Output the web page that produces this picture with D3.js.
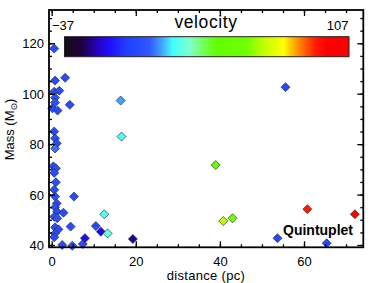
<!DOCTYPE html>
<html><head><meta charset="utf-8">
<script src="https://cdn.jsdelivr.net/npm/d3@7"></script>
<style>
html,body{margin:0;padding:0;background:#fff;}
text{font-family:"Liberation Sans",Arial,sans-serif;fill:#000;}
</style></head>
<body>
<svg id="c" width="373" height="283"></svg>
<script>
// ---- data ----
const distance = [0.6,0.8,3.2,0.6,1.8,0.8,0.8,0.15,1.4,4.3,16.4,
  0.6,0.8,1.2,0.8,0.4,1.0,0.6,1.0,0.6,0.8,1.2,0.8,1.3,2.8,0.6,1.3,5.3,0.8,1.6,0.8,0.6,
  4.5,2.5,4.9,7.4,7.9,10.5,11.7,12.5,13.3,19.3,16.6,
  39.0,40.8,43.0,53.7,60.8,65.4,72.1,55.6];
const mass = [117.9,105.2,106.3,100.8,101.2,98.4,96.5,94.2,93.3,95.6,97.3,
  85.0,82.3,80.3,78.3,71.2,70.4,68.6,64.9,61.9,59.2,56.5,55.0,53.2,52.8,51.2,50.6,59.2,47.0,46.2,44.6,43.1,
  47.3,40.0,39.7,40.4,42.7,47.5,45.3,52.2,44.6,42.4,83.0,
  71.7,49.5,50.6,42.7,54.2,40.7,52.2,102.6];
const velocity = [0,-1,0,1,0,2,3,0,-1,0,12,
  0,1,0,8,0,1,0,1,0,2,0,1,0,-1,0,1,0,1,0,0,-1,
  0,0,1,0,-15,-2,-17,20,22,-23,19,
  47,64,54,-2,91,-2,95,-2];
const xTicks = [0,20,40,60];
const yTicks = [40,60,80,100,120];
const vMin = -37, vMax = 107;
const colorStops = [
  [0.00,"#101010"],[0.06,"#200040"],[0.12,"#2800c8"],[0.16,"#2010ff"],
  [0.22,"#2040ff"],[0.30,"#3058ff"],[0.34,"#40a0ff"],[0.38,"#40ffff"],
  [0.44,"#80ffd0"],[0.50,"#70ff40"],[0.54,"#60ff00"],[0.64,"#70ff00"],
  [0.70,"#c0ff00"],[0.77,"#ffff00"],[0.82,"#ff9000"],[0.88,"#ff2000"],
  [0.92,"#ff0000"],[1.00,"#ff0000"]];

// ---- chart ----
const svg = d3.select("#c");
const L=49, R=363.3, T=10, B=247.3;
const x = d3.scaleLinear().domain([-0.64,74.1]).range([L,R]);
const y = d3.scaleLinear().domain([39.09,133.2]).range([B,T]);
const tScale = d3.scaleLinear().domain([vMin,vMax]).range([0,1]);
const cmap = d3.scaleLinear().domain(colorStops.map(d=>d[0])).range(colorStops.map(d=>d[1])).interpolate(d3.interpolateRgb).clamp(true);
const color = v => cmap(tScale(v));

// points
const pts = distance.map((d,i)=>({d, m:mass[i], v:velocity[i]}));
const sym = d3.symbol().type(d3.symbolDiamond2).size(52);
svg.append("g").selectAll("path").data(pts).join("path")
  .attr("d", sym)
  .attr("transform", p=>`translate(${x(p.d)},${y(p.m)})`)
  .attr("fill", p=>color(p.v))
  .attr("stroke","#333").attr("stroke-width",0.7);

// axes
const xMinor = d3.range(0,75,5), yMinor = d3.range(40,135,5);
function axis(gen, pos, ticks, size, labels){
  const a = gen.tickValues(ticks).tickSize(size).tickSizeOuter(0);
  if(!labels) a.tickFormat("");
  const g = svg.append("g").attr("transform",pos).call(a);
  g.select(".domain").remove();
  g.selectAll("line").attr("stroke","#000").attr("stroke-width",1.3);
  g.selectAll("text").style("font-size","13px").style("font-family","'Liberation Sans',Arial,sans-serif");
  return g;
}
axis(d3.axisBottom(x),`translate(0,${B})`,xMinor,-3,false);
axis(d3.axisBottom(x),`translate(0,${B})`,xTicks,-6,true).selectAll("text").attr("dy","0.95em").attr("y",6);
axis(d3.axisTop(x),`translate(0,${T})`,xMinor,-3,false);
axis(d3.axisTop(x),`translate(0,${T})`,xTicks,-6,false);
axis(d3.axisLeft(y),`translate(${L},0)`,yMinor,-3,false);
axis(d3.axisLeft(y),`translate(${L},0)`,yTicks,-6,true).selectAll("text").attr("x",-5).attr("dy","0.36em");
axis(d3.axisRight(y),`translate(${R},0)`,yMinor,-3,false);
axis(d3.axisRight(y),`translate(${R},0)`,yTicks,-6,false);
svg.append("rect").attr("x",L).attr("y",T).attr("width",R-L).attr("height",B-T)
  .attr("fill","none").attr("stroke","#000").attr("stroke-width",1.8);

// colorbar
const defs = svg.append("defs");
const grad = defs.append("linearGradient").attr("id","cb");
grad.selectAll("stop").data(colorStops).join("stop")
  .attr("offset",d=>d[0]).attr("stop-color",d=>d[1]);
const cbL=64.5, cbR=349, cbT=36.7, cbB=56.7;
svg.append("rect").attr("x",cbL).attr("y",cbT).attr("width",cbR-cbL).attr("height",cbB-cbT)
  .attr("fill","url(#cb)").attr("stroke","#222").attr("stroke-width",1);
svg.append("text").attr("x",52).attr("y",29.5).style("font-size","13px").text("\u2212"+Math.abs(vMin));
svg.append("text").attr("x",348.5).attr("y",29.5).attr("text-anchor","end").style("font-size","13px").text(vMax);
svg.append("text").attr("x",206).attr("y",27.5).attr("text-anchor","middle").style("font-size","17.5px").style("letter-spacing","0.6px").text("velocity");

// labels
svg.append("text").attr("x",206).attr("y",280).attr("text-anchor","middle").style("font-size","13px").style("letter-spacing","0.3px").text("distance (pc)");
const yl = svg.append("text").attr("transform","translate(13.5,129.5) rotate(-90)").attr("text-anchor","middle").style("font-size","13px");
yl.append("tspan").text("Mass (M");
yl.append("tspan").style("font-size","9px").attr("dy",3).style("font-family","'DejaVu Sans',sans-serif").text("\u2299");
yl.append("tspan").attr("dy",-3).text(")");
svg.append("text").attr("x",353).attr("y",234.5).attr("text-anchor","end").style("font-size","14px").style("font-weight","bold").text("Quintuplet");
</script>
</body></html>
